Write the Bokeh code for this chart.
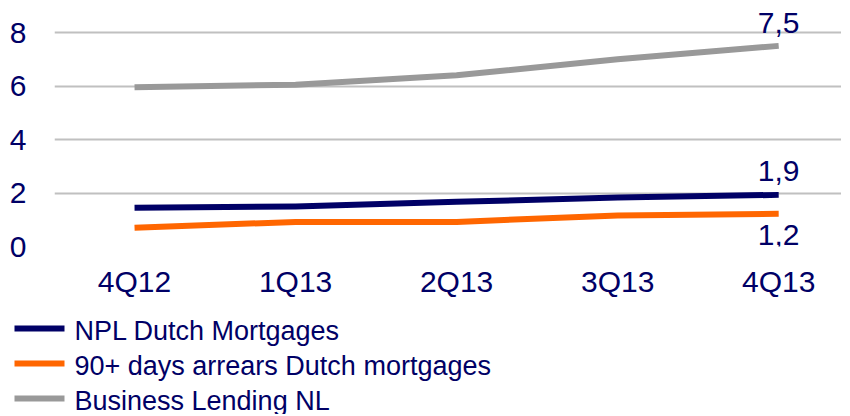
from bokeh.plotting import figure
from bokeh.layouts import column
from bokeh.models import Range1d, FixedTicker
from bokeh.embed import file_html
from bokeh.resources import INLINE
from bokeh.core.properties import value

categories = ["4Q12", "1Q13", "2Q13", "3Q13", "4Q13"]
npl_dutch_mortgages = [1.45, 1.50, 1.67, 1.83, 1.93]
arrears_90_days = [0.70, 0.92, 0.92, 1.16, 1.22]
business_lending_nl = [5.95, 6.05, 6.40, 7.00, 7.50]
series_names = ["NPL Dutch Mortgages", "90+ days arrears Dutch mortgages", "Business Lending NL"]
y_ticks = [0, 2, 4, 6, 8]

NAVY = "#000066"
ORANGE = "#ff6600"
GRAY = "#999999"
FONT = "Liberation Sans"

series = [npl_dutch_mortgages, arrears_90_days, business_lending_nl]
colors = [NAVY, ORANGE, GRAY]
xs = list(range(len(categories)))

p = figure(width=841, height=302, output_backend="svg", toolbar_location=None,
           x_range=Range1d(-0.497, 4.39), y_range=Range1d(0, 8.935),
           min_border_left=54, min_border_right=0, min_border_top=7, min_border_bottom=56)
p.frame_width = 787
p.frame_height = 239
p.outline_line_color = None

for vals, col in reversed(list(zip(series, colors))):
    p.line(xs, vals, line_color=col, line_width=6, line_join="round")

def fmt(v):
    return f"{v:.1f}".replace(".", ",")

last = len(categories) - 1
lab_kw = dict(text_font=value(FONT), text_font_size="30px", text_color=NAVY, text_align="center")
p.text(x=[last], y=[business_lending_nl[-1]], text=[fmt(business_lending_nl[-1])],
       text_baseline="alphabetic", y_offset=-23, **lab_kw)
p.text(x=[last], y=[npl_dutch_mortgages[-1]], text=[fmt(npl_dutch_mortgages[-1])],
       text_baseline="alphabetic", y_offset=-24, **lab_kw)
p.text(x=[last], y=[arrears_90_days[-1]], text=[fmt(arrears_90_days[-1])],
       text_baseline="top", y_offset=11, **lab_kw)

p.xaxis.ticker = FixedTicker(ticks=xs)
p.xaxis.major_label_overrides = {i: c for i, c in enumerate(categories)}
p.yaxis.ticker = FixedTicker(ticks=y_ticks)
for ax in (p.xaxis, p.yaxis):
    ax.axis_line_color = None
    ax.major_tick_line_color = None
    ax.minor_tick_line_color = None
    ax.major_tick_out = 0
    ax.major_tick_in = 0
    ax.minor_tick_out = 0
    ax.major_label_text_font = FONT
    ax.major_label_text_font_size = "30px"
    ax.major_label_text_color = NAVY
p.xaxis.major_label_standoff = 18
p.yaxis.major_label_standoff = 28

p.xgrid.grid_line_color = None
p.ygrid.grid_line_color = "#c0c0c0"
p.ygrid.grid_line_width = 2

# legend panel drawn in its own pixel-scaled figure
LG_W, LG_H = 841, 112
lg = figure(width=LG_W, height=LG_H, output_backend="svg", toolbar_location=None,
            x_range=Range1d(0, LG_W), y_range=Range1d(LG_H, 0),
            x_axis_location=None, y_axis_location=None, min_border=0)
lg.outline_line_color = None
lg.grid.grid_line_color = None
for fig in (p, lg):
    if "frame_align" in fig.properties():
        fig.frame_align = False

rows = [26 + 35 * i for i in range(len(series_names))]
lg.segment(x0=[14] * len(rows), x1=[64] * len(rows), y0=rows, y1=rows,
           line_color=colors, line_width=6)
lg.text(x=[74] * len(rows), y=rows, text=series_names, text_font=value(FONT),
        text_font_size="27px", text_color=NAVY, text_baseline="middle",
        text_align="left", y_offset=2)

layout = column(p, lg, spacing=0)
open("out.html", "w").write(file_html(layout, INLINE))
